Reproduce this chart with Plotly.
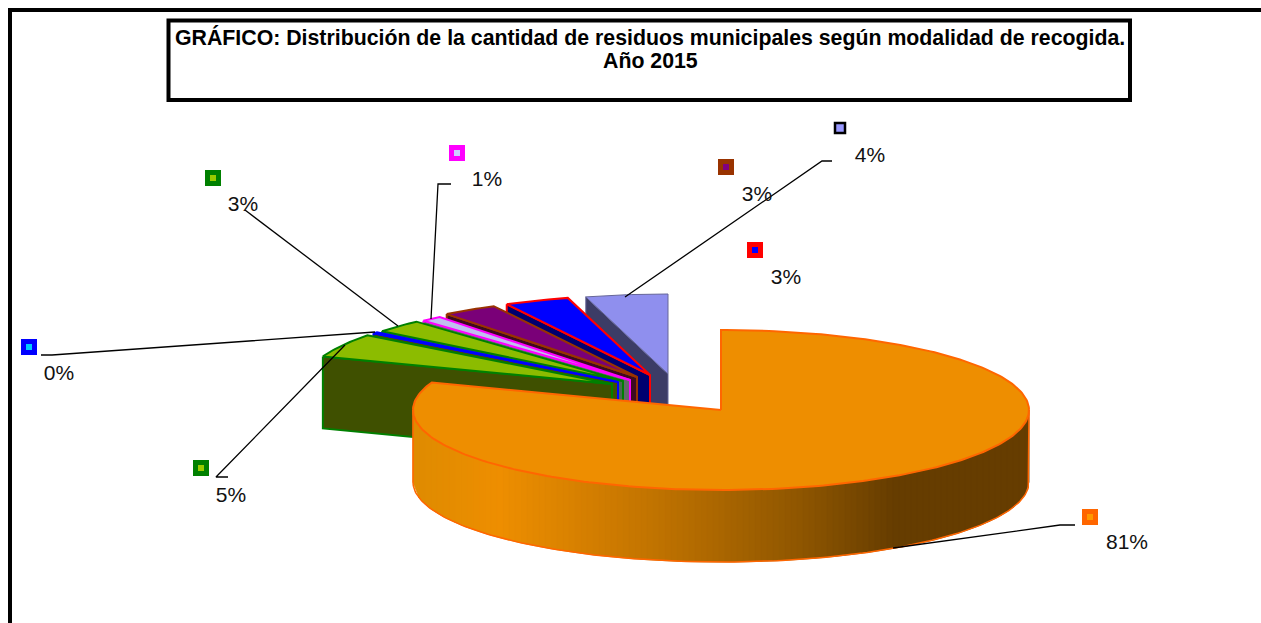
import math
import plotly.graph_objects as go

# ---- data (clockwise from 12 o'clock) ----
names = ["Orange", "Lime", "Blue0", "Green", "Magenta", "Brown", "Blue", "Lilac"]
values = [80.6, 4.8, 0.3, 2.6, 1.1, 2.9, 3.4, 4.3]

# ---- styles ----
top_colors = ["#EE8E00", "#8CBC00", "#8CBC00", "#8CBC00", "#BFBFEF", "#7A0078", "#0000FF", "#8F8FEE"]
side_colors = ["#663D00", "#3F5000", "#3F5000", "#4A6A50", "#66666E", "#3D0A20", "#000070", "#3C3C66"]
edge_colors = ["#FF6600", "#008000", "#0000FF", "#008000", "#FF00FF", "#993300", "#FF0000", "#666699"]
edge_widths = [2, 2, 2, 2, 2, 2, 2, 1]
key_fill = ["#FF9900", "#99CC00", "#00CCFF", "#99CC00", "#CCCCFF", "#800080", "#0000FF", "#9999FF"]
key_edge = ["#FF6600", "#008000", "#0000FF", "#008000", "#FF00FF", "#993300", "#FF0000", "#000000"]

# ---- layout geometry (page pixels) ----
CX, CY, RX, RY, DEPTH = 721, 410, 308, 80, 72
apex_dx = [0, -109, -103, -98, -91, -84, -71, -53]
apex_dy = [0, -26, -28, -29, -30, -33, -35, -36]
key_x = [1090, 201, 29, 213, 457, 726, 755, 840]
key_y = [517, 468, 347, 178, 153, 167, 250, 128]
label_x = [1127, 231, 59, 243, 487, 757, 786, 870]
label_y = [544, 497, 375, 206, 181, 196, 279, 157]
leaders = [
    ([1075, 1060, 893], [525, 525, 548]),
    ([228, 216, 345], [477, 477, 345]),
    ([41, 52, 375], [355, 355, 332]),
    ([245, 398], [210, 326]),
    ([451, 438, 431], [184, 184, 319]),
    ([832, 822, 625], [161, 161, 297]),
]
grad_x = [413, 500, 650, 800, 895, 1029]
grad_c = [(0xDE, 0x8B, 0x00), (0xEE, 0x8E, 0x00), (0xC2, 0x74, 0x00), (0x8F, 0x56, 0x00), (0x66, 0x3D, 0x00), (0x66, 0x3D, 0x00)]

TITLE_LINES = ["<b>GRÁFICO: Distribución de la cantidad de residuos municipales según modalidad de recogida.</b>",
               "<b>Año 2015</b>"]
TITLE_Y = [37, 61]

fig = go.Figure()


def poly(xs, ys, fill, line=None, width=1.5):
    fig.add_trace(go.Scatter(
        x=xs, y=ys, mode="lines", fill="toself", fillcolor=fill,
        line=dict(color=line or fill, width=width), hoverinfo="skip", showlegend=False))


def arc(a0, a1, cx, cy, n=None):
    n = n or max(3, int(abs(a1 - a0)) + 2)
    pts = [a0 + (a1 - a0) * i / (n - 1) for i in range(n)]
    return ([cx + RX * math.sin(math.radians(a)) for a in pts],
            [cy - RY * math.cos(math.radians(a)) for a in pts])


# slice angles
total = sum(values)
starts, acc = [], 0.0
for v in values:
    starts.append(acc)
    acc += v / total * 360
ends = starts[1:] + [360.0]

# exploded small slices, back to front
for i in range(len(values) - 1, 0, -1):
    cx, cy = CX + apex_dx[i], CY + apex_dy[i]
    ax, ay = arc(starts[i], ends[i], cx, cy)
    # radial wall on the left edge of the wedge
    poly([ax[0], cx, cx, ax[0], ax[0]],
         [ay[0], cy, cy + DEPTH, ay[0] + DEPTH, ay[0]],
         side_colors[i], edge_colors[i], edge_widths[i])
    poly(ax + [cx, ax[0]], ay + [cy, ay[0]], top_colors[i], edge_colors[i], edge_widths[i])


# big slice: gradient wall
def grad_color(x):
    for k in range(len(grad_x) - 1):
        if x <= grad_x[k + 1]:
            t = (x - grad_x[k]) / (grad_x[k + 1] - grad_x[k])
            c = [round(grad_c[k][j] + (grad_c[k + 1][j] - grad_c[k][j]) * t) for j in range(3)]
            return "#%02X%02X%02X" % tuple(c)
    return "#%02X%02X%02X" % grad_c[-1]


STEP = 6
x0 = CX - RX
while x0 < CX + RX:
    x1 = min(x0 + STEP, CX + RX)
    s0 = max(-1, min(1, (x0 - CX) / RX))
    s1 = max(-1, min(1, (x1 - CX) / RX))
    y0 = CY + RY * math.sqrt(1 - s0 * s0)
    y1 = CY + RY * math.sqrt(1 - s1 * s1)
    poly([x0, x1, x1, x0, x0], [y0, y1, y1 + DEPTH, y0 + DEPTH, y0], grad_color((x0 + x1) / 2), None, 0.8)
    x0 = x1

# outline of the wall
bx, by = arc(90, 270, CX, CY)
fig.add_trace(go.Scatter(
    x=[bx[0]] + bx + [bx[-1]], y=[by[0]] + [v + DEPTH for v in by] + [by[-1]], mode="lines",
    line=dict(color=edge_colors[0], width=1.5), hoverinfo="skip", showlegend=False))
# top of the big slice
tx, ty = arc(starts[0], ends[0], CX, CY)
poly([CX] + tx + [CX], [CY] + ty + [CY], top_colors[0], edge_colors[0], 2)

# leader lines
for lx, ly in leaders:
    fig.add_trace(go.Scatter(x=lx, y=ly, mode="lines", line=dict(color="#000000", width=1.3),
                             hoverinfo="skip", showlegend=False))

# legend keys
for i in range(len(values)):
    big = i == len(values) - 1
    fig.add_trace(go.Scatter(
        x=[key_x[i]], y=[key_y[i]], mode="markers",
        marker=dict(symbol="square", size=10 if big else 11,
                    color=key_fill[i], line=dict(color=key_edge[i], width=2.5 if big else 5)),
        hoverinfo="skip", showlegend=False))

# percent labels
fig.add_trace(go.Scatter(
    x=label_x, y=label_y, mode="text", text=[f"{round(v)}%" for v in values],
    textposition="middle center", textfont=dict(family="Liberation Sans", size=21, color="#111111"),
    hoverinfo="skip", showlegend=False))

fig.update_layout(
    width=1261, height=623, margin=dict(l=0, r=0, t=0, b=0),
    paper_bgcolor="#FFFFFF", plot_bgcolor="#FFFFFF", showlegend=False,
    xaxis=dict(range=[0, 1261], visible=False, fixedrange=True),
    yaxis=dict(range=[623, 0], visible=False, fixedrange=True),
    shapes=[
        dict(type="rect", x0=10, y0=10, x1=1300, y1=700, line=dict(color="#000000", width=4), layer="below"),
        dict(type="rect", x0=168.5, y0=20.5, x1=1130, y1=100, line=dict(color="#000000", width=4), layer="below"),
    ],
    annotations=[dict(
        x=650, y=yy, xref="x", yref="y", text=tt, showarrow=False, align="center",
        font=dict(family="Liberation Sans", size=21.3, color="#000000"))
        for tt, yy in zip(TITLE_LINES, TITLE_Y)],
)

fig.write_html("out.html", config={"displayModeBar": False},
               post_script="document.body.style.margin='0';document.body.style.overflow='hidden';")
